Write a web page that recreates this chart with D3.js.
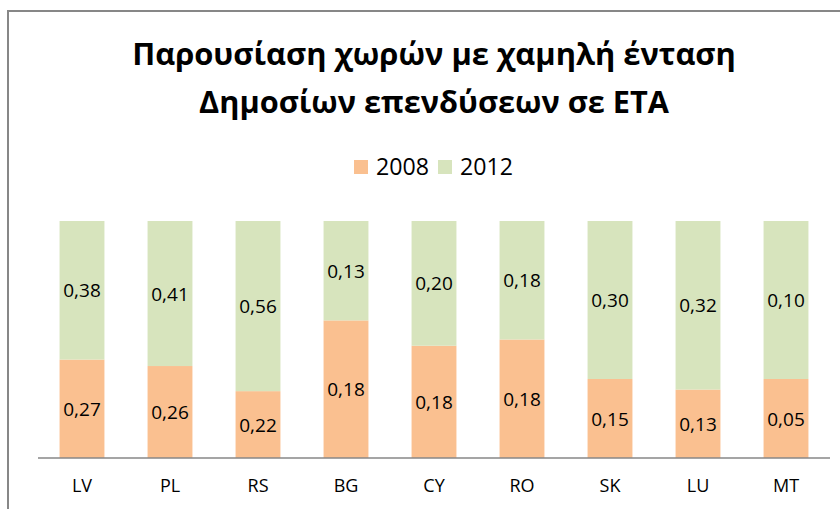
<!DOCTYPE html>
<html>
<head>
<meta charset="utf-8">
<script src="https://cdn.jsdelivr.net/npm/d3@7"></script>
<style>
	body { margin: 0; background: white; }
	svg text { font-family: "Open Sans", "Noto Sans", sans-serif; fill: #000; }
</style>
</head>
<body>
<div id="chart"></div>
<script>
// Chart values
const titleLines = ["Παρουσίαση χωρών με χαμηλή ένταση", "Δημοσίων επενδύσεων σε ΕΤΑ"]
const countries = ["LV", "PL", "RS", "BG", "CY", "RO", "SK", "LU", "MT"]
const seriesNames = ["2008", "2012"]
const values2008 = [0.27, 0.26, 0.22, 0.18, 0.18, 0.18, 0.15, 0.13, 0.05]
const values2012 = [0.38, 0.41, 0.56, 0.13, 0.20, 0.18, 0.30, 0.32, 0.10]
const seriesColors = ["#FAC090", "#D7E4BD"]

const width = 840
const height = 509
const plot = { left: 38, right: 830, top: 221, bottom: 458 }

const svg = d3.select("#chart")
	.append("svg")
	.attr("width", width)
	.attr("height", height)

// chart border (runs off the right and bottom edge)
svg.append("rect")
	.attr("x", 8)
	.attr("y", 11)
	.attr("width", 860)
	.attr("height", 520)
	.attr("fill", "white")
	.attr("stroke", "#878787")
	.attr("stroke-width", 2)

// shrink / grow a text so it spans the wanted width
function fitWidth(sel, target) {
	const node = sel.node()
	const size = parseFloat(sel.style("font-size"))
	const len = node.getComputedTextLength()
	sel.style("font-size", (size * target / len) + "px")
}

const centerX = 434
const titleBaselines = [65, 113]
const titleWidths = [604, 470]
titleLines.forEach((t, i) => {
	const txt = svg.append("text")
		.attr("x", centerX)
		.attr("y", titleBaselines[i])
		.attr("text-anchor", "middle")
		.style("font-weight", "bold")
		.style("font-size", "30px")
		.text(t)
	fitWidth(txt, titleWidths[i])
})

// stack as share of the total (100% stacked)
const rows = countries.map((c, i) => {
	const total = values2008[i] + values2012[i]
	return { country: c, v2008: values2008[i], v2012: values2012[i], total: total }
})

const stack = d3.stack()
	.keys(["v2008", "v2012"])
	.value((d, key) => d[key] / d.total)
const stacked = stack(rows)

const x = d3.scaleBand()
	.domain(countries)
	.range([plot.left, plot.right])
	.paddingInner(0.49)
	.paddingOuter(0.245)

const y = d3.scaleLinear()
	.domain([0, 1])
	.range([plot.bottom, plot.top])

const fmt = (v) => d3.format(".2f")(v).replace(".", ",")

stacked.forEach((layer, li) => {
	const g = svg.append("g").attr("class", "series-" + seriesNames[li])
	g.selectAll("rect")
		.data(layer)
		.join("rect")
		.attr("x", (d) => x(d.data.country))
		.attr("y", (d) => y(d[1]))
		.attr("width", x.bandwidth())
		.attr("height", (d) => y(d[0]) - y(d[1]))
		.attr("fill", seriesColors[li])

	g.selectAll("text")
		.data(layer)
		.join("text")
		.attr("x", (d) => x(d.data.country) + x.bandwidth() / 2)
		.attr("y", (d) => (y(d[0]) + y(d[1])) / 2)
		.attr("text-anchor", "middle")
		.attr("dominant-baseline", "central")
		.style("font-size", "19px")
		.text((d) => fmt(d.data[layer.key]))
})

// category axis
const xAxis = svg.append("g")
	.attr("transform", `translate(0,${plot.bottom})`)
	.call(d3.axisBottom(x).tickSize(0).tickPadding(21))
xAxis.select(".domain").attr("stroke", "#878787").attr("stroke-width", 1.5)
	.attr("d", `M${plot.left},0H${plot.right}`)
xAxis.selectAll("text")
	.style("font-size", "18px")
	.style("font-family", "\"Open Sans\", \"Noto Sans\", sans-serif")
	.attr("fill", "#000")

// legend
const legendItems = [
	{ label: seriesNames[0], color: seriesColors[0], x: 354 },
	{ label: seriesNames[1], color: seriesColors[1], x: 438 },
]
const legend = svg.append("g").attr("class", "legend")
legendItems.forEach((d) => {
	legend.append("rect")
		.attr("x", d.x)
		.attr("y", 160)
		.attr("width", 14)
		.attr("height", 14)
		.attr("fill", d.color)
	const t = legend.append("text")
		.attr("x", d.x + 22)
		.attr("y", 175)
		.style("font-size", "22px")
		.text(d.label)
	fitWidth(t, 53)
})
</script>
</body>
</html>
